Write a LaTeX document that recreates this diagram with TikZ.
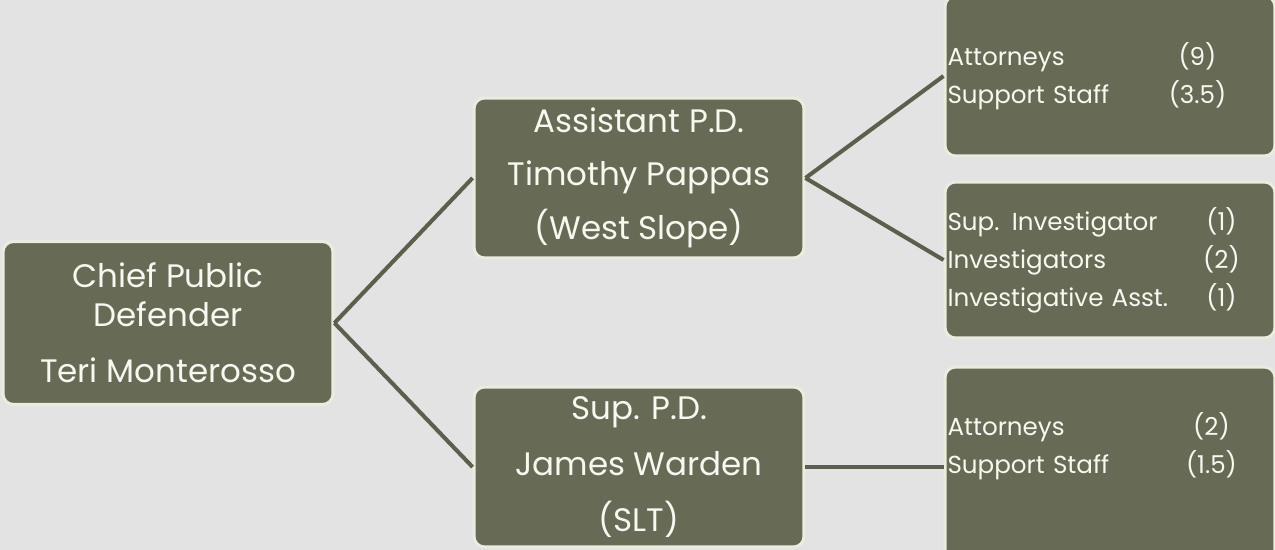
\documentclass[tikz,border=0pt]{standalone}
\usepackage{fontspec}
\setmainfont{Poppins}
\usetikzlibrary{positioning}

\definecolor{boxfill}{RGB}{103,106,85}
\definecolor{boxline}{RGB}{236,236,222}
\definecolor{linkcol}{RGB}{92,95,76}
\definecolor{bgcol}{RGB}{227,227,227}
\definecolor{boxtext}{RGB}{248,248,240}

\newcommand{\staffrow}[3]{\makebox[#1][l]{#2}\makebox[0pt]{#3}}

\begin{document}
\begin{tikzpicture}[x=0.02cm,y=-0.02cm,
  box/.style={draw=boxline,line width=1.7pt,fill=boxfill,text=boxtext,rounded corners=6pt,
    minimum width=6.6cm,minimum height=3.2cm,inner sep=0pt,align=center,
    font=\fontsize{18.5}{22}\selectfont},
  staffbox/.style={box,align=left,text width=6.5cm,
    font=\fontsize{14}{21.6}\selectfont},
  link/.style={draw=linkcol,line width=2.3pt}]

\fill[bgcol] (0,0) rectangle (1275,550);
\clip (0,0) rectangle (1275,550);

\node[box,minimum height=3.26cm](chief) at (168,323) {Chief Public\\Defender\\[10pt]Teri Monterosso};
\node[box](asst) at (639,178) {Assistant P.D.\\[8pt]Timothy Pappas\\[8pt](West Slope)};
\node[box](suppd) at (639,467) {Sup. P.D.\\[10pt]James Warden\\[10pt](SLT)};

\node[staffbox](ws1) at (1110,76) {\staffrow{5.0cm}{Attorneys}{(9)}\\\staffrow{5.0cm}{Support Staff}{(3.5)}};
\node[staffbox,minimum height=3.12cm](ws2) at (1110,260) {\staffrow{5.48cm}{Sup. Investigator}{(1)}\\\staffrow{5.48cm}{Investigators}{(2)}\\\staffrow{5.48cm}{Investigative Asst.}{(1)}};
\node[staffbox,minimum height=4cm](slt1) at (1110,467) {\staffrow{5.28cm}{Attorneys}{(2)}\\\staffrow{5.28cm}{Support Staff}{(1.5)}\\[6pt]\mbox{}};

\foreach \a/\b in {chief/asst,chief/suppd,asst/ws1,asst/ws2,suppd/slt1}
	\draw[link](\a.east)--(\b.west);

\end{tikzpicture}
\end{document}
